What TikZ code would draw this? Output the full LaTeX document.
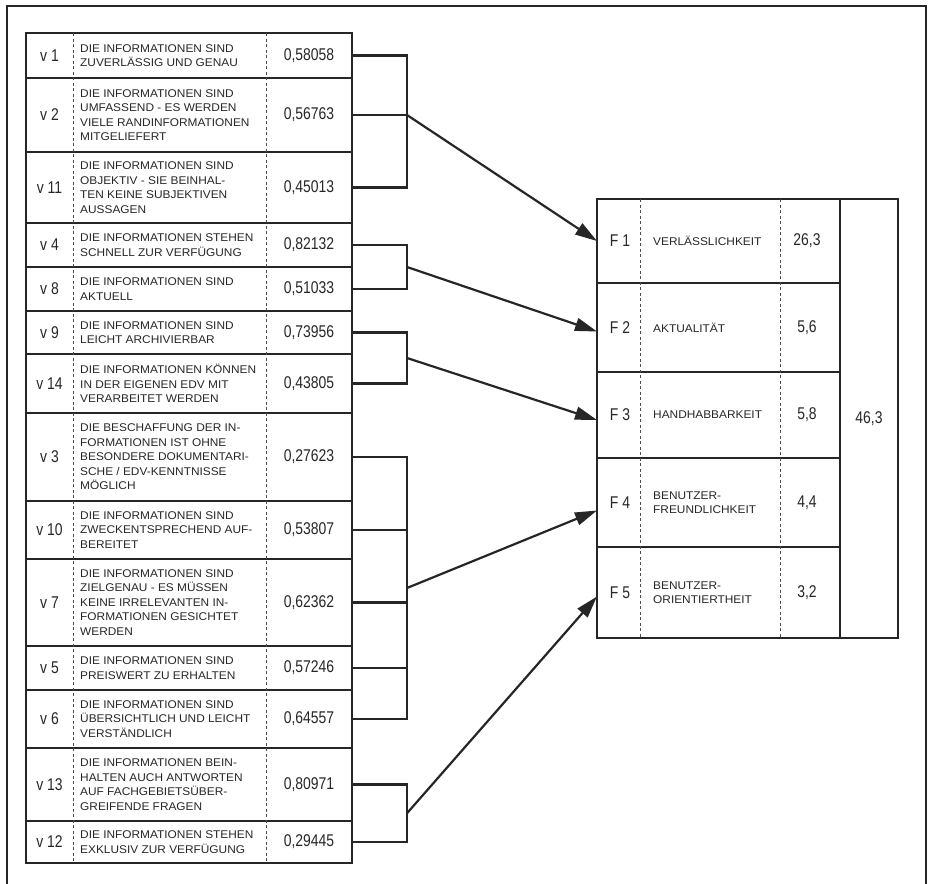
\documentclass[tikz,border=0pt]{standalone}
\usepackage{fontspec}
\setmainfont{Liberation Sans}
\newfontfamily\plotfont[FakeStretch=1.06]{Liberation Sans}
\newfontfamily\digitfont[FakeStretch=0.82]{Liberation Sans}
\usetikzlibrary{positioning,arrows.meta,calc}

\begin{document}
\begin{tikzpicture}[
  x=1pt, y=-1pt,
  >={Triangle[length=22pt,width=13pt]},
  rowbox/.style={
    draw=black!85,
    line width=2pt,
    minimum width=326pt,
    outer sep=0pt,
    inner sep=0pt
  },
  frow/.style={rowbox, minimum width=243pt},
  vtag/.style={font=\digitfont\fontsize{17}{17}\selectfont, text=black!85, inner sep=0pt},
  vval/.style={font=\digitfont\fontsize{17}{17}\selectfont, text=black!85, inner sep=0pt},
  vtext/.style={font=\plotfont\fontsize{11.2}{14.5}\selectfont, text=black!85, align=left, anchor=west, inner sep=0pt},
  colsep/.style={draw=black!70, line width=0.7pt, dash pattern=on 3pt off 2.5pt},
  link/.style={draw=black!85, line width=2.2pt},
  arr/.style={->, draw=black!85, line width=2.2pt}
]
\useasboundingbox (0,0) rectangle (930,884);
\draw[black!85, line width=2.5pt] (7,884) -- (7,6) -- (926,6) -- (926,884);

% left table: items
\node[rowbox, minimum height=45pt, anchor=north west] (v1) at (26,33) {};
\node[rowbox, minimum height=74pt, below=0pt of v1] (v2) {};
\node[rowbox, minimum height=71pt, below=0pt of v2] (v11) {};
\node[rowbox, minimum height=44pt, below=0pt of v11] (v4) {};
\node[rowbox, minimum height=44pt, below=0pt of v4] (v8) {};
\node[rowbox, minimum height=43pt, below=0pt of v8] (v9) {};
\node[rowbox, minimum height=59pt, below=0pt of v9] (v14) {};
\node[rowbox, minimum height=88pt, below=0pt of v14] (v3) {};
\node[rowbox, minimum height=58pt, below=0pt of v3] (v10) {};
\node[rowbox, minimum height=87pt, below=0pt of v10] (v7) {};
\node[rowbox, minimum height=44pt, below=0pt of v7] (v5) {};
\node[rowbox, minimum height=58pt, below=0pt of v5] (v6) {};
\node[rowbox, minimum height=73pt, below=0pt of v6] (v13) {};
\node[rowbox, minimum height=42pt, below=0pt of v13] (v12) {};

\draw[colsep] ([xshift=47pt]v1.north west) -- ([xshift=47pt]v12.south west);
\draw[colsep] ([xshift=240pt]v1.north west) -- ([xshift=240pt]v12.south west);

\node[vtag] (v1tag) at ([xshift=23.5pt]v1.west) {v 1};
\node[vtext] (v1txt) at ([xshift=54pt]v1.west) {DIE INFORMATIONEN SIND\\ZUVERLÄSSIG UND GENAU};
\node[vval] (v1val) at ([xshift=-43pt]v1.east) {0,58058};

\node[vtag] (v2tag) at ([xshift=23.5pt]v2.west) {v 2};
\node[vtext] (v2txt) at ([xshift=54pt]v2.west) {DIE INFORMATIONEN SIND\\UMFASSEND - ES WERDEN\\VIELE RANDINFORMATIONEN\\MITGELIEFERT};
\node[vval] (v2val) at ([xshift=-43pt]v2.east) {0,56763};

\node[vtag] (v11tag) at ([xshift=23.5pt]v11.west) {v 11};
\node[vtext] (v11txt) at ([xshift=54pt]v11.west) {DIE INFORMATIONEN SIND\\OBJEKTIV - SIE BEINHAL-\\TEN KEINE SUBJEKTIVEN\\AUSSAGEN};
\node[vval] (v11val) at ([xshift=-43pt]v11.east) {0,45013};

\node[vtag] (v4tag) at ([xshift=23.5pt]v4.west) {v 4};
\node[vtext] (v4txt) at ([xshift=54pt]v4.west) {DIE INFORMATIONEN STEHEN\\SCHNELL ZUR VERFÜGUNG};
\node[vval] (v4val) at ([xshift=-43pt]v4.east) {0,82132};

\node[vtag] (v8tag) at ([xshift=23.5pt]v8.west) {v 8};
\node[vtext] (v8txt) at ([xshift=54pt]v8.west) {DIE INFORMATIONEN SIND\\AKTUELL};
\node[vval] (v8val) at ([xshift=-43pt]v8.east) {0,51033};

\node[vtag] (v9tag) at ([xshift=23.5pt]v9.west) {v 9};
\node[vtext] (v9txt) at ([xshift=54pt]v9.west) {DIE INFORMATIONEN SIND\\LEICHT ARCHIVIERBAR};
\node[vval] (v9val) at ([xshift=-43pt]v9.east) {0,73956};

\node[vtag] (v14tag) at ([xshift=23.5pt]v14.west) {v 14};
\node[vtext] (v14txt) at ([xshift=54pt]v14.west) {DIE INFORMATIONEN KÖNNEN\\IN DER EIGENEN EDV MIT\\VERARBEITET WERDEN};
\node[vval] (v14val) at ([xshift=-43pt]v14.east) {0,43805};

\node[vtag] (v3tag) at ([xshift=23.5pt]v3.west) {v 3};
\node[vtext] (v3txt) at ([xshift=54pt]v3.west) {DIE BESCHAFFUNG DER IN-\\FORMATIONEN IST OHNE\\BESONDERE DOKUMENTARI-\\SCHE / EDV-KENNTNISSE\\MÖGLICH};
\node[vval] (v3val) at ([xshift=-43pt]v3.east) {0,27623};

\node[vtag] (v10tag) at ([xshift=23.5pt]v10.west) {v 10};
\node[vtext] (v10txt) at ([xshift=54pt]v10.west) {DIE INFORMATIONEN SIND\\ZWECKENTSPRECHEND AUF-\\BEREITET};
\node[vval] (v10val) at ([xshift=-43pt]v10.east) {0,53807};

\node[vtag] (v7tag) at ([xshift=23.5pt]v7.west) {v 7};
\node[vtext] (v7txt) at ([xshift=54pt]v7.west) {DIE INFORMATIONEN SIND\\ZIELGENAU - ES MÜSSEN\\KEINE IRRELEVANTEN IN-\\FORMATIONEN GESICHTET\\WERDEN};
\node[vval] (v7val) at ([xshift=-43pt]v7.east) {0,62362};

\node[vtag] (v5tag) at ([xshift=23.5pt]v5.west) {v 5};
\node[vtext] (v5txt) at ([xshift=54pt]v5.west) {DIE INFORMATIONEN SIND\\PREISWERT ZU ERHALTEN};
\node[vval] (v5val) at ([xshift=-43pt]v5.east) {0,57246};

\node[vtag] (v6tag) at ([xshift=23.5pt]v6.west) {v 6};
\node[vtext] (v6txt) at ([xshift=54pt]v6.west) {DIE INFORMATIONEN SIND\\ÜBERSICHTLICH UND LEICHT\\VERSTÄNDLICH};
\node[vval] (v6val) at ([xshift=-43pt]v6.east) {0,64557};

\node[vtag] (v13tag) at ([xshift=23.5pt]v13.west) {v 13};
\node[vtext] (v13txt) at ([xshift=54pt]v13.west) {DIE INFORMATIONEN BEIN-\\HALTEN AUCH ANTWORTEN\\AUF FACHGEBIETSÜBER-\\GREIFENDE FRAGEN};
\node[vval] (v13val) at ([xshift=-43pt]v13.east) {0,80971};

\node[vtag] (v12tag) at ([xshift=23.5pt]v12.west) {v 12};
\node[vtext] (v12txt) at ([xshift=54pt]v12.west) {DIE INFORMATIONEN STEHEN\\EXKLUSIV ZUR VERFÜGUNG};
\node[vval] (v12val) at ([xshift=-43pt]v12.east) {0,29445};

% right table: factors
\node[frow, minimum height=84pt, anchor=north west] (f1) at (597,199) {};
\node[frow, minimum height=89pt, below=0pt of f1] (f2) {};
\node[frow, minimum height=86pt, below=0pt of f2] (f3) {};
\node[frow, minimum height=89pt, below=0pt of f3] (f4) {};
\node[frow, minimum height=91pt, below=0pt of f4] (f5) {};
\node[rowbox, minimum width=58pt, minimum height=439pt, anchor=north west, font=\digitfont\fontsize{17}{17}\selectfont, text=black!85] (tot) at (f1.north east) {46,3};

\draw[colsep] ([xshift=43pt]f1.north west) -- ([xshift=43pt]f5.south west);
\draw[colsep] ([xshift=183pt]f1.north west) -- ([xshift=183pt]f5.south west);

\node[vtag] (f1tag) at ([xshift=23pt]f1.west) {F 1};
\node[vtext] (f1txt) at ([xshift=56pt]f1.west) {VERLÄSSLICHKEIT};
\node[vval] (f1val) at ([xshift=-33pt]f1.east) {26,3};

\node[vtag] (f2tag) at ([xshift=23pt]f2.west) {F 2};
\node[vtext] (f2txt) at ([xshift=56pt]f2.west) {AKTUALITÄT};
\node[vval] (f2val) at ([xshift=-33pt]f2.east) {5,6};

\node[vtag] (f3tag) at ([xshift=23pt]f3.west) {F 3};
\node[vtext] (f3txt) at ([xshift=56pt]f3.west) {HANDHABBARKEIT};
\node[vval] (f3val) at ([xshift=-33pt]f3.east) {5,8};

\node[vtag] (f4tag) at ([xshift=23pt]f4.west) {F 4};
\node[vtext] (f4txt) at ([xshift=56pt]f4.west) {BENUTZER-\\FREUNDLICHKEIT};
\node[vval] (f4val) at ([xshift=-33pt]f4.east) {4,4};

\node[vtag] (f5tag) at ([xshift=23pt]f5.west) {F 5};
\node[vtext] (f5txt) at ([xshift=56pt]f5.west) {BENUTZER-\\ORIENTIERTHEIT};
\node[vval] (f5val) at ([xshift=-33pt]f5.east) {3,2};

% brackets and arrows
\coordinate (brk) at (407,0);

\draw[link] (v1.east) -| (brk |- v11.east) -- (v11.east);
\draw[link] (v2.east) -- (v2.east -| brk);
\draw[arr] (v2.east -| brk) -- (f1.west);

\draw[link] (v4.east) -| (brk |- v8.east) -- (v8.east);
\draw[arr] ($(v4.east -| brk)!0.5!(v8.east -| brk)$) -- ([yshift=-4pt]f2.west);

\draw[link] (v9.east) -| (brk |- v14.east) -- (v14.east);
\draw[arr] ($(v9.east -| brk)!0.5!(v14.east -| brk)$) -- ([yshift=-5pt]f3.west);

\draw[link] (v3.east) -| (brk |- v6.east) -- (v6.east);
\draw[link] (v10.east) -- (v10.east -| brk);
\draw[link] (v7.east) -- (v7.east -| brk);
\draw[link] (v5.east) -- (v5.east -| brk);
\draw[arr] ($(v3.east -| brk)!0.5!(v6.east -| brk)$) -- ([yshift=-8pt]f4.west);

\draw[link] (v13.east) -| (brk |- v12.east) -- (v12.east);
\draw[arr] ($(v13.east -| brk)!0.5!(v12.east -| brk)$) -- ([yshift=-4pt]f5.west);
\end{tikzpicture}
\end{document}
